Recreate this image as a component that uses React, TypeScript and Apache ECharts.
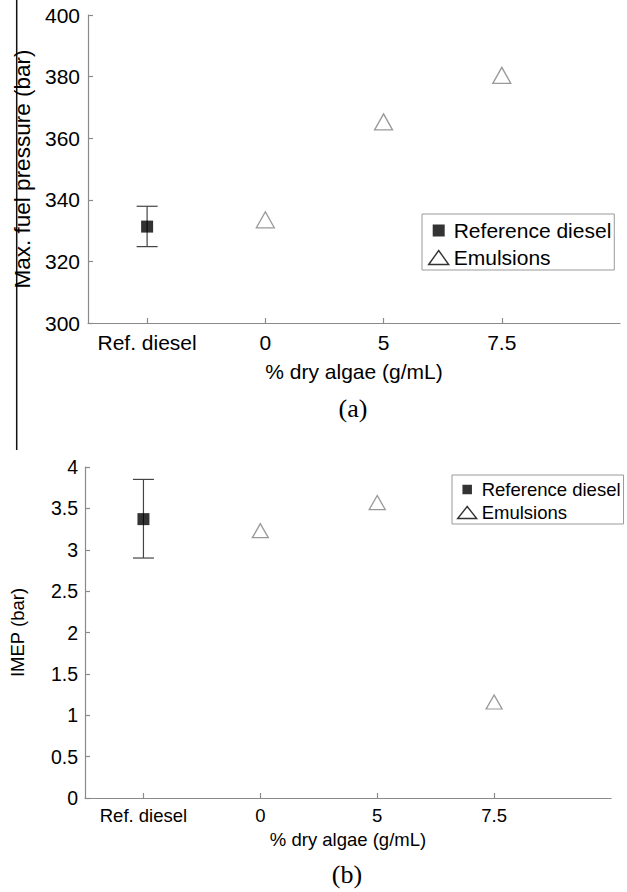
import React, { useEffect, useRef } from 'react';
import * as echarts from 'echarts';

// Fuel types along the horizontal axis, placed at positions 1..4
const categories = ['Ref. diesel', '0', '5', '7.5'];
const categoryPositions = [1, 2, 3, 4];

// (a) maximum fuel pressure, bar
const pressureRefDiesel = 331.3;
const pressureRefDieselRange = [324.8, 337.9];
const pressureEmulsions = [333.5, 365.3, 380.4];
const pressureAxis = [300, 400, 20]; // min, max, step

// (b) IMEP, bar
const imepRefDiesel = 3.37;
const imepRefDieselRange = [2.9, 3.85];
const imepEmulsions = [3.23, 3.57, 1.16];
const imepAxis = [0, 4, 0.5]; // min, max, step

const SANS = '"Liberation Sans", Arial, Helvetica, sans-serif';
const SERIF = '"Liberation Serif", "Times New Roman", serif';
const AXIS_GREY = '#8a8a8a';

function makeXAxis(gridIndex: number, fontSize: number, margin: number, nameGap: number) {
  return {
    type: 'value',
    gridIndex,
    min: 0.5,
    max: 5,
    name: '% dry algae (g/mL)',
    nameLocation: 'middle',
    nameGap,
    nameTextStyle: { fontSize, color: '#000', fontFamily: SANS },
    axisLine: { show: true, onZero: false, lineStyle: { color: AXIS_GREY, width: 1.2 } },
    axisTick: {
      show: true,
      inside: true,
      length: 5,
      customValues: categoryPositions,
      lineStyle: { color: AXIS_GREY, width: 1.2 },
    },
    axisLabel: {
      customValues: categoryPositions,
      formatter: (v: number) => categories[Math.round(v) - 1] ?? '',
      fontSize,
      color: '#000',
      fontFamily: SANS,
      margin,
    },
    splitLine: { show: false },
  };
}

function makeYAxis(
  gridIndex: number,
  range: number[],
  name: string,
  fontSize: number,
  nameFontSize: number,
  margin: number,
  nameGap: number
) {
  return {
    type: 'value',
    gridIndex,
    min: range[0],
    max: range[1],
    interval: range[2],
    name,
    nameLocation: 'middle',
    nameGap,
    nameRotate: 90,
    nameTextStyle: { fontSize: nameFontSize, color: '#000', fontFamily: SANS },
    axisLine: { show: true, onZero: false, lineStyle: { color: AXIS_GREY, width: 1.2 } },
    axisTick: { show: true, inside: true, length: 5, lineStyle: { color: AXIS_GREY, width: 1.2 } },
    axisLabel: { fontSize, color: '#000', fontFamily: SANS, margin },
    splitLine: { show: false },
  };
}

function errorBarSeries(axisIndex: number, x: number, range: number[], capHalf: number) {
  return {
    type: 'custom',
    name: 'error-' + axisIndex,
    xAxisIndex: axisIndex,
    yAxisIndex: axisIndex,
    silent: true,
    z: 2,
    encode: { x: 0, y: [1, 2] },
    data: [[x, range[0], range[1]]],
    renderItem: (_params: any, api: any) => {
      const px = api.value(0);
      const lo = api.coord([px, api.value(1)]);
      const hi = api.coord([px, api.value(2)]);
      const style = { stroke: '#444', lineWidth: 1.2 };
      return {
        type: 'group',
        children: [
          { type: 'line', shape: { x1: hi[0], y1: hi[1], x2: lo[0], y2: lo[1] }, style },
          { type: 'line', shape: { x1: hi[0] - capHalf, y1: hi[1], x2: hi[0] + capHalf, y2: hi[1] }, style },
          { type: 'line', shape: { x1: lo[0] - capHalf, y1: lo[1], x2: lo[0] + capHalf, y2: lo[1] }, style },
        ],
      };
    },
  };
}

function refSeries(axisIndex: number, value: number, size: number) {
  return {
    type: 'scatter',
    name: 'Reference diesel',
    xAxisIndex: axisIndex,
    yAxisIndex: axisIndex,
    symbol: 'rect',
    symbolSize: size,
    z: 4,
    itemStyle: { color: '#000' },
    data: [[categoryPositions[0], value]],
  };
}

function emulsionSeries(axisIndex: number, values: number[], size: number[]) {
  return {
    type: 'scatter',
    name: 'Emulsions',
    xAxisIndex: axisIndex,
    yAxisIndex: axisIndex,
    symbol: 'triangle',
    symbolSize: size,
    z: 4,
    itemStyle: { color: '#fff', borderColor: '#808080', borderWidth: 1.3 },
    data: values.map((v, i) => [categoryPositions[i + 1], v]),
  };
}

function makeLegend(
  left: number,
  top: number,
  padding: number[],
  w: number,
  h: number,
  sq: number,
  fontSize: number,
  itemGap: number
) {
  const sx = (w - sq) / 2;
  const sy = (h - sq) / 2;
  const squareIcon = `path://M0,0M${w},${h}M${sx},${sy}L${sx + sq},${sy}L${sx + sq},${sy + sq}L${sx},${sy + sq}Z`;
  const triangleIcon = `path://M0,${h}L${w / 2},0L${w},${h}Z`;
  return {
    orient: 'vertical',
    left,
    top,
    padding,
    itemGap,
    itemWidth: w,
    itemHeight: h,
    selectedMode: false,
    borderColor: '#999',
    borderWidth: 1,
    backgroundColor: '#fff',
    textStyle: { fontSize, color: '#000', fontFamily: SANS },
    data: [
      { name: 'Reference diesel', icon: squareIcon, itemStyle: { color: '#000' } },
      {
        name: 'Emulsions',
        icon: triangleIcon,
        itemStyle: { color: '#fff', borderColor: '#000', borderWidth: 1.4 },
      },
    ],
  };
}

export default function App() {
  const ref = useRef<HTMLDivElement>(null);

  useEffect(() => {
    if (!ref.current) return;
    const chart = echarts.init(ref.current, undefined, { renderer: 'svg' });
    chart.setOption({
      animation: false,
      backgroundColor: '#fff',
      textStyle: { fontFamily: SANS },
      grid: [
        { left: 88, top: 15, width: 532, height: 308, containLabel: false },
        { left: 82, top: 467, width: 529, height: 331, containLabel: false },
      ],
      xAxis: [makeXAxis(0, 21, 9, 38), makeXAxis(1, 18.5, 8, 32)],
      yAxis: [
        makeYAxis(0, pressureAxis, 'Max. fuel pressure (bar)', 21, 22.5, 8, 54),
        makeYAxis(1, imepAxis, 'IMEP (bar)', 19.5, 18.5, 7, 58),
      ],
      legend: [
        makeLegend(422, 214, [6, 3, 2, 6], 20, 14, 12, 21, 6),
        makeLegend(452, 475, [5, 3, 2, 5], 19, 12, 9.5, 18.5, 4),
      ],
      series: [
        errorBarSeries(0, categoryPositions[0], pressureRefDieselRange, 10.5),
        refSeries(0, pressureRefDiesel, 12),
        emulsionSeries(0, pressureEmulsions, [18, 16]),
        errorBarSeries(1, categoryPositions[0], imepRefDieselRange, 10.5),
        refSeries(1, imepRefDiesel, 12),
        emulsionSeries(1, imepEmulsions, [16, 14]),
      ],
      graphic: [
        {
          type: 'line',
          shape: { x1: 16.7, y1: 0, x2: 16.7, y2: 450 },
          style: { stroke: '#111', lineWidth: 1.5 },
          silent: true,
        },
        {
          type: 'text',
          x: 353,
          y: 408,
          style: {
            text: '(a)',
            fontSize: 26,
            fontFamily: SERIF,
            fill: '#000',
            align: 'center',
            verticalAlign: 'middle',
          },
        },
        {
          type: 'text',
          x: 347,
          y: 874,
          style: {
            text: '(b)',
            fontSize: 26,
            fontFamily: SERIF,
            fill: '#000',
            align: 'center',
            verticalAlign: 'middle',
          },
        },
      ],
    });
    return () => chart.dispose();
  }, []);

  return (
    <div
      ref={ref}
      style={{ position: 'fixed', left: 0, top: 0, width: 627, height: 892, background: '#fff' }}
    />
  );
}
